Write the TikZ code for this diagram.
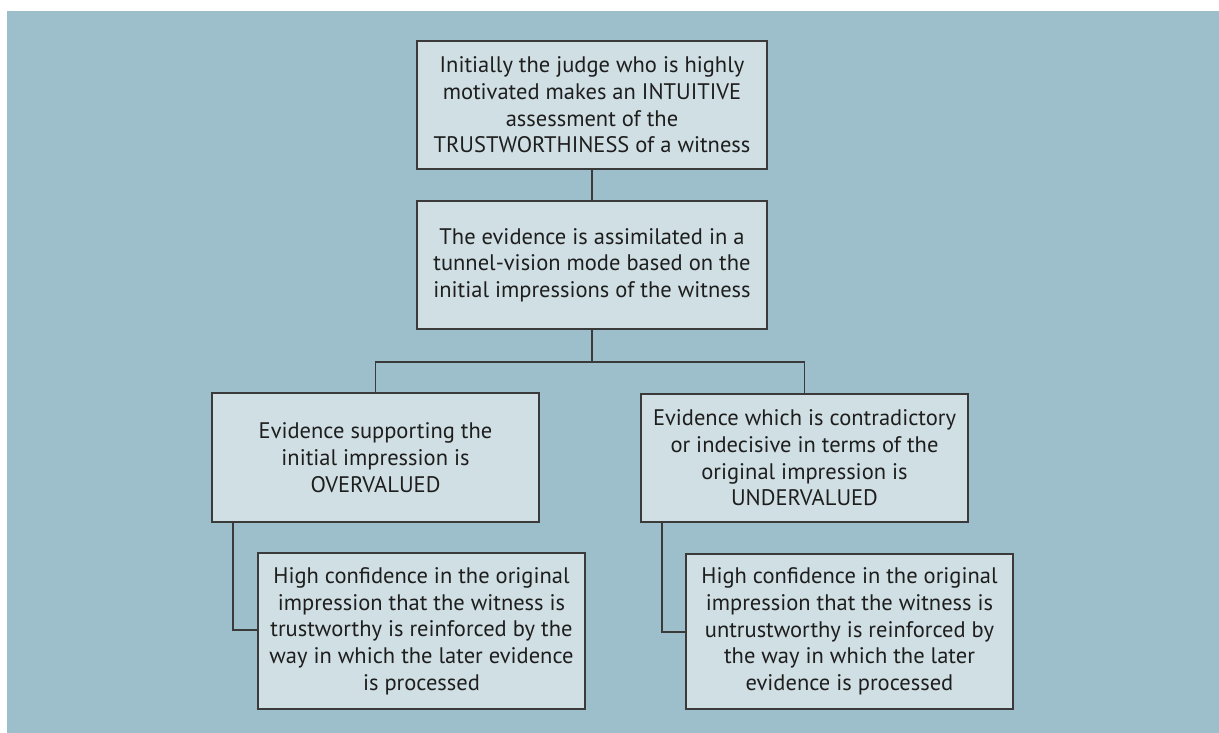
\documentclass[tikz,border=0pt]{standalone}
\usepackage{fontspec}
\setmainfont{PT Sans}
\definecolor{panel}{HTML}{9DBFCC}
\definecolor{boxfill}{HTML}{D0DFE4}
\definecolor{edge}{HTML}{3A3A3A}
\definecolor{ink}{HTML}{1E1E1E}
\begin{document}
\begin{tikzpicture}[x=1pt,y=-1pt,
  box/.style={draw=edge, line width=1.3pt, fill=boxfill, inner sep=0pt,
    align=center, text=ink,
    font=\fontsize{22.5}{26.7}\selectfont},
  link/.style={draw=edge, line width=1.3pt}]
  % page and coloured panel
  \useasboundingbox (0,0) rectangle (1219,733);
  \fill[white] (0,0) rectangle (1219,733);
  \fill[panel] (7,11) rectangle (1219,733);

  % boxes
  \node[box, minimum width=350pt, minimum height=128pt] (judge) at (592,105)
    {Initially the judge who is highly\\motivated makes an INTUITIVE\\assessment of the\\TRUSTWORTHINESS of a witness};
  \node[box, minimum width=350pt, minimum height=128pt] (tunnel) at (592,265)
    {The evidence is assimilated in a\\tunnel-vision mode based on the\\initial impressions of the witness};
  \node[box, minimum width=327pt, minimum height=129pt] (over) at (375.5,457.5)
    {Evidence supporting the\\initial impression is\\OVERVALUED};
  \node[box, minimum width=327pt, minimum height=128pt] (under) at (804.5,458)
    {Evidence which is contradictory\\or indecisive in terms of the\\original impression is\\UNDERVALUED};
  \node[box, minimum width=327pt, minimum height=156pt] (trust) at (421.5,631)
    {High confidence in the original\\impression that the witness is\\trustworthy is reinforced by the\\way in which the later evidence\\is processed};
  \node[box, minimum width=327pt, minimum height=155pt] (untrust) at (849.5,631.5)
    {High confidence in the original\\impression that the witness is\\untrustworthy is reinforced by\\the way in which the later\\evidence is processed};

  % connectors
  \coordinate (split) at (592,362);
  \draw[link] (judge.south) -- (tunnel.north);
  \draw[link] (tunnel.south) -- (split);
  \draw[link] (over.north) -- (over.north |- split) -- (under.north |- split) -- (under.north);
  \draw[link] (233,522) -- (233,630) -- (trust.west |- 0,630);
  \draw[link] (662,522) -- (662,632) -- (untrust.west |- 0,632);
\end{tikzpicture}
\end{document}
